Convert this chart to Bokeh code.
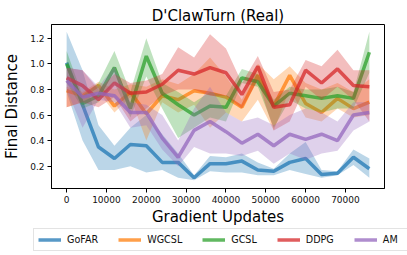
from bokeh.plotting import figure
from bokeh.models import Range1d, Legend, LegendItem, FixedTicker, NumeralTickFormatter
from bokeh.embed import file_html
from bokeh.resources import INLINE

steps = [0, 4000, 8000, 12000, 16000, 20000, 24000, 28000, 32000, 36000,
         40000, 44000, 48000, 52000, 56000, 60000, 64000, 68000, 72000, 76000]

gofar = [1.01, 0.68, 0.35, 0.26, 0.37, 0.36, 0.23, 0.23, 0.11, 0.22, 0.22, 0.24, 0.17, 0.16, 0.23, 0.26, 0.135, 0.145, 0.27, 0.18]
gofar_lo = [0.78, 0.40, 0.17, 0.17, 0.20, 0.15, 0.17, 0.11, 0.09, 0.16, 0.15, 0.15, 0.13, 0.13, 0.17, 0.14, 0.11, 0.13, 0.21, 0.11]
gofar_hi = [1.25, 0.95, 0.52, 0.36, 0.50, 0.60, 0.45, 0.30, 0.13, 0.28, 0.27, 0.30, 0.23, 0.18, 0.30, 0.39, 0.17, 0.16, 0.33, 0.26]

wgcsl = [0.79, 0.75, 0.83, 0.67, 0.78, 0.61, 0.75, 0.72, 0.79, 0.77, 0.74, 0.66, 0.91, 0.67, 0.91, 0.69, 0.62, 0.73, 0.65, 0.70]
wgcsl_lo = [0.66, 0.70, 0.78, 0.62, 0.74, 0.40, 0.70, 0.62, 0.68, 0.50, 0.62, 0.55, 0.72, 0.48, 0.80, 0.58, 0.55, 0.65, 0.58, 0.60]
wgcsl_hi = [0.82, 0.78, 0.86, 0.80, 0.84, 0.82, 0.88, 0.84, 0.92, 1.05, 0.90, 0.72, 1.00, 0.88, 0.98, 0.85, 0.80, 0.85, 0.78, 0.88]

gcsl = [1.00, 0.69, 0.75, 0.97, 0.65, 1.06, 0.77, 0.68, 0.60, 0.67, 0.66, 0.89, 0.86, 0.67, 0.77, 0.75, 0.73, 0.75, 0.73, 1.09]
gcsl_lo = [0.85, 0.65, 0.70, 0.85, 0.58, 0.90, 0.65, 0.42, 0.50, 0.58, 0.55, 0.85, 0.82, 0.50, 0.72, 0.65, 0.62, 0.65, 0.65, 0.93]
gcsl_hi = [1.10, 0.75, 0.85, 1.10, 0.78, 1.20, 0.85, 0.78, 0.70, 0.78, 0.75, 0.96, 0.92, 0.72, 0.82, 0.80, 0.80, 0.82, 0.78, 1.25]

ddpg = [0.89, 0.83, 0.72, 0.85, 0.77, 0.78, 0.84, 0.95, 0.92, 0.97, 0.93, 0.76, 0.98, 0.66, 0.68, 0.95, 0.85, 0.96, 0.83, 0.82]
ddpg_lo = [0.66, 0.70, 0.66, 0.74, 0.55, 0.65, 0.75, 0.80, 0.80, 0.75, 0.75, 0.65, 0.87, 0.48, 0.55, 0.82, 0.72, 0.82, 0.72, 0.55]
ddpg_hi = [0.97, 0.95, 0.80, 0.92, 0.85, 0.87, 0.92, 1.13, 1.05, 1.23, 1.12, 0.85, 1.06, 0.78, 0.80, 1.03, 0.98, 1.11, 0.95, 0.95]

am = [0.87, 0.74, 0.77, 0.75, 0.62, 0.62, 0.42, 0.27, 0.48, 0.55, 0.47, 0.38, 0.45, 0.36, 0.45, 0.41, 0.45, 0.40, 0.60, 0.62]
am_lo = [0.80, 0.50, 0.72, 0.70, 0.50, 0.52, 0.33, 0.20, 0.35, 0.30, 0.30, 0.28, 0.32, 0.22, 0.30, 0.25, 0.30, 0.32, 0.48, 0.55]
am_hi = [0.97, 0.95, 0.82, 0.98, 0.70, 0.68, 0.60, 0.40, 0.65, 0.82, 0.62, 0.55, 0.58, 0.52, 0.60, 0.65, 0.62, 0.55, 0.70, 0.70]

names = ["GoFAR", "WGCSL", "GCSL", "DDPG", "AM"]
colors = ["#1f77b4", "#ff7f0e", "#2ca02c", "#d62728", "#9467bd"]
series = [(gofar, gofar_lo, gofar_hi), (wgcsl, wgcsl_lo, wgcsl_hi), (gcsl, gcsl_lo, gcsl_hi),
          (ddpg, ddpg_lo, ddpg_hi), (am, am_lo, am_hi)]

x_ticks = [0, 10000, 20000, 30000, 40000, 50000, 60000, 70000]
y_ticks = [0.2, 0.4, 0.6, 0.8, 1.0, 1.2]

FONT = "DejaVu Sans"
LW = 3.5
LALPHA = 0.75

p = figure(width=407, height=228, output_backend="svg", toolbar_location=None,
           x_range=Range1d(-3800, 79800), y_range=Range1d(0.026, 1.307),
           min_border_left=49, min_border_right=23, min_border_top=24, min_border_bottom=40)
p.background_fill_color = "white"
p.border_fill_color = "white"
p.outline_line_color = "black"
p.outline_line_width = 1
p.xgrid.visible = False
p.ygrid.visible = False

p.title.text = "D'ClawTurn (Real)"
p.title.text_font = FONT
p.title.text_font_size = "15px"
p.title.text_font_style = "normal"
p.title.align = "center"
p.title.standoff = 0
p.title.text_color = "black"

for ax in (p.xaxis[0], p.yaxis[0]):
    ax.axis_line_color = "black"
    ax.major_tick_line_color = "black"
    ax.minor_tick_line_color = None
    ax.major_tick_in = 0
    ax.major_tick_out = 4
    ax.major_label_text_font = FONT
    ax.major_label_text_font_size = "9px"
    ax.major_label_text_color = "#111111"
    ax.major_label_standoff = 3
    ax.axis_label_text_font = FONT
    ax.axis_label_text_font_size = "15px"
    ax.axis_label_text_font_style = "normal"
    ax.axis_label_text_color = "black"
p.xaxis.ticker = FixedTicker(ticks=x_ticks)
p.yaxis.ticker = FixedTicker(ticks=y_ticks)
p.xaxis.formatter.use_scientific = False
p.yaxis.formatter = NumeralTickFormatter(format="0.0")
p.xaxis.axis_label = "Gradient Updates"
p.yaxis.axis_label = "Final Distance"
p.xaxis.axis_label_standoff = 2
p.yaxis.axis_label_standoff = 6

for (m, lo, hi), c in zip(series, colors):
    p.varea(x=steps, y1=lo, y2=hi, fill_color=c, fill_alpha=0.3)
    p.line(x=steps, y=m, line_color=c, line_width=LW, line_alpha=LALPHA)

# legend strip below the chart, rendered as its own root so its frame spans the full width
q = figure(width=407, height=27, output_backend="svg", toolbar_location=None,
           x_axis_type=None, y_axis_type=None,
           x_range=Range1d(-10, -5), y_range=Range1d(-10, -5),
           min_border_left=0, min_border_right=0, min_border_top=0, min_border_bottom=0)
q.outline_line_color = None
q.xgrid.visible = False
q.ygrid.visible = False
q.background_fill_color = "white"
q.border_fill_color = "white"
keys = [q.line(x=steps, y=s[0], line_color=c, line_width=LW, line_alpha=LALPHA)
        for s, c in zip(series, colors)]

legend = Legend(items=[LegendItem(label=n, renderers=[r]) for n, r in zip(names, keys)],
                orientation="horizontal", location=(33, 4))
legend.label_text_font = FONT
legend.label_text_font_size = "9.6px"
legend.label_text_color = "#111111"
legend.glyph_width = 23
legend.glyph_height = 13
legend.label_height = 13
legend.label_standoff = 6
legend.spacing = 20
legend.padding = 4
legend.margin = 0
legend.border_line_color = "#c8c8c8"
legend.border_line_width = 1
legend.background_fill_alpha = 1
q.add_layout(legend, "center")

open("out.html", "w").write(file_html([p, q], INLINE))
